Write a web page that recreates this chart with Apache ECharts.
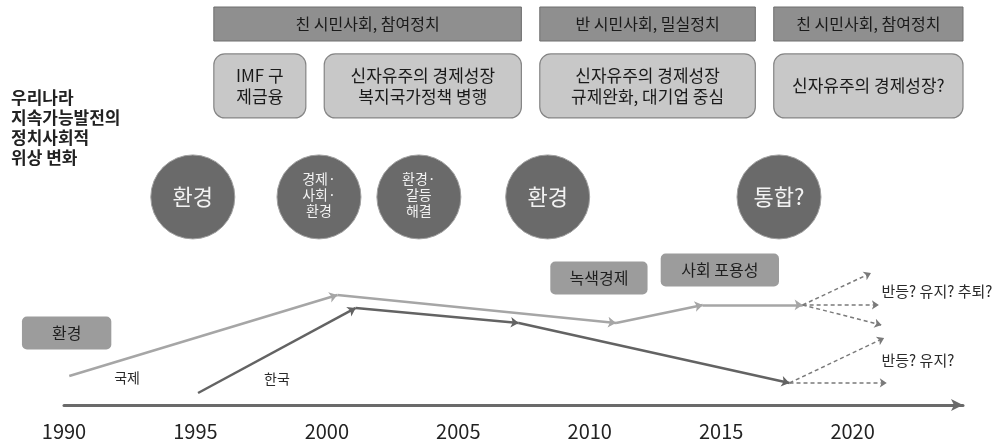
<!DOCTYPE html>
<html><head><meta charset="utf-8">
<script src="https://cdn.jsdelivr.net/npm/echarts@6/dist/echarts.min.js"></script>
<style>html,body{margin:0;padding:0;background:#fff}#c{width:1003px;height:448px}</style>
</head><body><div id="c"></div>
<script>
// ---- data ----
const yearTicks = [1990, 1995, 2000, 2005, 2010, 2015, 2020];
const intlPoints = [[1990.2, 19.3], [2000.4, 73.3], [2011.0, 54.7], [2014.3, 66.7], [2018.1, 66.7]];
const koreaPoints = [[1995.1, 8], [2001.1, 64.7], [2007.3, 54.7], [2017.6, 14.7]];
const intlFuture = [[2020.7, 88], [2021.0, 66.7], [2021.1, 53.3]];
const koreaFuture = [[2021.2, 44.7], [2021.3, 14.7]];
const eraLabels = ['친 시민사회, 참여정치', '반 시민사회, 밀실정치', '친 시민사회, 참여정치'];
const eraStart = [1995.7, 2008.1, 2017.0];
const eraEnd = [2007.4, 2016.3, 2024.2];
const policyLabels = ['IMF 구\n제금융', '신자유주의 경제성장\n복지국가정책 병행', '신자유주의 경제성장\n규제완화, 대기업 중심', '신자유주의 경제성장?'];
const policyStart = [1995.7, 1999.9, 2008.1, 2017.0];
const policyEnd = [1999.2, 2007.4, 2016.3, 2024.2];
const focusLabels = ['환경', '경제·\n사회·\n환경', '환경·\n갈등\n해결', '환경', '통합?'];
const focusYears = [1994.9, 1999.7, 2003.5, 2008.4, 2017.2];
const tagLabels = ['환경', '녹색경제', '사회 포용성'];
const tagStart = [1988.4, 2008.5, 2012.7];
const tagEnd = [1991.8, 2012.2, 2017.2];
const tagLevel = [48, 84.7, 90];
const noteLabels = ['국제', '한국', '반등? 유지? 추퇴?', '반등? 유지?'];
const notePoints = [[1992.4, 18], [1998.1, 17.3], [2021.1, 76], [2021.1, 30]];

const FONT = '"Noto Sans CJK KR", "Noto Sans", sans-serif';
function segs(pts) { const r = []; for (let i = 0; i < pts.length - 1; i++) r.push({coords: [pts[i], pts[i + 1]]}); return r; }
function fan(from, ends) { return ends.map(e => ({coords: [from, e]})); }

function rectItem(startArr, endArr, labels, levelFn, h, style) {
  return function (params, api) {
    const i = params.dataIndex;
    const p0 = api.coord([startArr[i], levelFn(i)]);
    const p1 = api.coord([endArr[i], levelFn(i)]);
    return {
      type: 'group', children: [
        {type: 'rect', shape: {x: p0[0], y: p0[1] - h / 2, width: p1[0] - p0[0], height: h, r: style.r},
         style: {fill: style.fill, stroke: style.stroke, lineWidth: style.lw}},
        {type: 'text', style: {text: labels[i], x: (p0[0] + p1[0]) / 2, y: p0[1], align: 'center', verticalAlign: 'middle',
         font: style.font, fill: style.color, lineHeight: style.lh}}
      ]
    };
  };
}

const chart = echarts.init(document.getElementById('c'));
chart.setOption({
  animation: false,
  grid: {left: 64, right: 40, top: 0, bottom: 43},
  xAxis: {type: 'value', min: 1990, max: 2024.2, interval: 5,
    axisLine: {lineStyle: {color: '#6a6a6a', width: 3}, symbol: ['none', 'arrow'], symbolSize: [9, 12]},
    axisTick: {show: false}, splitLine: {show: false},
    axisLabel: {fontSize: 20, color: '#222', margin: 16, fontFamily: FONT,
      formatter: v => yearTicks.indexOf(v) >= 0 ? String(v) : ''}},
  yAxis: {type: 'value', min: 0, max: 270, show: false},
  graphic: [{type: 'text', left: 11, top: 88,
    style: {text: '우리나라\n지속가능발전의\n정치사회적\n위상 변화', font: 'bold 17px ' + FONT, fill: '#222', lineHeight: 20}}],
  series: [
    {type: 'custom', data: eraLabels.map((_, i) => [eraStart[i], 254]), clip: false, z: 2,
     renderItem: rectItem(eraStart, eraEnd, eraLabels, () => 254, 34,
       {r: 0, fill: '#8f8f8f', stroke: '#6e6e6e', lw: 1, font: '16px ' + FONT, color: '#1a1a1a', lh: 20})},
    {type: 'custom', data: policyLabels.map((_, i) => [policyStart[i], 212.7]), clip: false, z: 2,
     renderItem: rectItem(policyStart, policyEnd, policyLabels, () => 212.7, 64,
       {r: 11, fill: '#c8c8c8', stroke: '#858585', lw: 1.2, font: '17px ' + FONT, color: '#1a1a1a', lh: 21})},
    {type: 'custom', data: tagLabels.map((_, i) => [tagStart[i], tagLevel[i]]), clip: false, z: 2,
     renderItem: rectItem(tagStart, tagEnd, tagLabels, i => tagLevel[i], 33,
       {r: 5, fill: '#9c9c9c', stroke: '#9c9c9c', lw: 0, font: '16px ' + FONT, color: '#1e1e1e', lh: 20})},
    {type: 'custom', data: focusYears.map(y => [y, 138.7]), clip: false, z: 2,
     renderItem: function (params, api) {
       const i = params.dataIndex;
       const p = api.coord([focusYears[i], 138.7]);
       const multi = focusLabels[i].indexOf('\n') >= 0;
       return {type: 'group', children: [
         {type: 'circle', shape: {cx: p[0], cy: p[1], r: 42}, style: {fill: '#6a6a6a', stroke: '#a0a0a0', lineWidth: 1}},
         {type: 'text', style: {text: focusLabels[i], x: p[0], y: p[1] + (multi ? -2 : 0), align: 'center', verticalAlign: 'middle',
           font: (multi ? '14px ' : '22px ') + FONT, fill: '#f2f2f2', lineHeight: multi ? 16 : 24}}
       ]};
     }},
    {type: 'custom', data: notePoints, clip: false, z: 3,
     renderItem: function (params, api) {
       const i = params.dataIndex;
       const p = api.coord(notePoints[i]);
       const left = i >= 2;
       return {type: 'text', style: {text: noteLabels[i], x: p[0], y: p[1], align: left ? 'left' : 'center', verticalAlign: 'middle',
         font: (left ? '15px ' : '14px ') + FONT, fill: '#2a2a2a'}};
     }},
    {type: 'lines', coordinateSystem: 'cartesian2d', data: segs(intlPoints), z: 4,
     lineStyle: {color: '#a6a6a6', width: 2.5, opacity: 1}, symbol: ['none', 'arrow'], symbolSize: 8},
    {type: 'lines', coordinateSystem: 'cartesian2d', data: segs(koreaPoints), z: 4,
     lineStyle: {color: '#636363', width: 2.5, opacity: 1}, symbol: ['none', 'arrow'], symbolSize: 8},
    {type: 'lines', coordinateSystem: 'cartesian2d', data: fan(intlPoints[intlPoints.length - 1], intlFuture), z: 4,
     lineStyle: {color: '#7a7a7a', width: 1.5, type: [4, 3], opacity: 1}, symbol: ['none', 'arrow'], symbolSize: 7},
    {type: 'lines', coordinateSystem: 'cartesian2d', data: fan(koreaPoints[koreaPoints.length - 1], koreaFuture), z: 4,
     lineStyle: {color: '#7a7a7a', width: 1.5, type: [4, 3], opacity: 1}, symbol: ['none', 'arrow'], symbolSize: 7}
  ]
});
</script></body></html>
